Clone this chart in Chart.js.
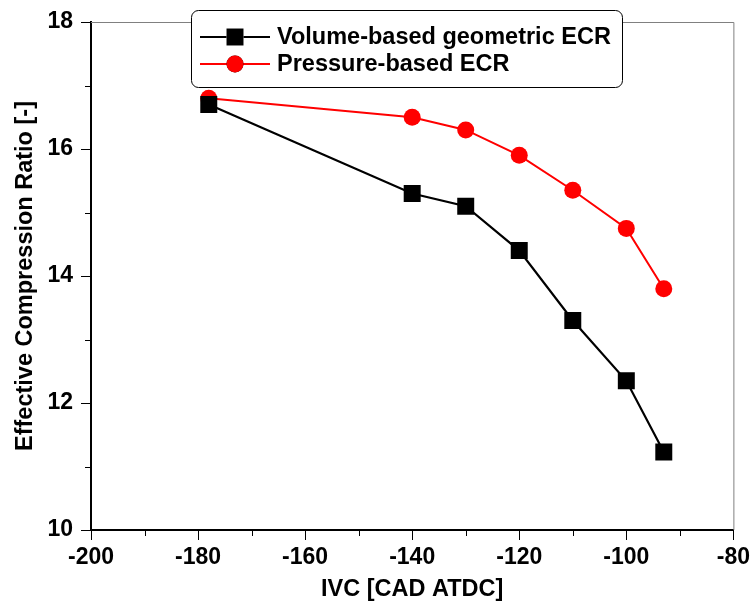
<!DOCTYPE html>
<html>
<head>
<meta charset="utf-8">
<script src="https://cdn.jsdelivr.net/npm/chart.js@4.4.1/dist/chart.umd.min.js"></script>
<style>
  html, body { margin: 0; padding: 0; background: #fff; }
  #wrap { width: 754px; height: 606px; position: relative; }
</style>
</head>
<body>
<div id="wrap"><canvas id="ecr-chart"></canvas></div>
<script>
// IVC timing [CAD ATDC]
const ivc = [-178, -140, -130, -120, -110, -100, -93];
const volumeEcr = [16.7, 15.3, 15.1, 14.4, 13.3, 12.35, 11.23];
const pressureEcr = [16.8, 16.5, 16.3, 15.9, 15.35, 14.75, 13.8];
const seriesLabels = ['Volume-based geometric ECR', 'Pressure-based ECR'];
const xTitle = 'IVC [CAD ATDC]';
const yTitle = 'Effective Compression Ratio [-]';

const FONT = '"Liberation Sans", Arial, sans-serif';

const toPoints = (ys) => ivc.map((x, i) => ({ x, y: ys[i] }));

// minor ticks + grey top/right frame
const framePlugin = {
    id: 'frame',
    afterDraw(chart) {
        const { ctx, chartArea: a, scales: { x, y } } = chart;
        ctx.save();
        ctx.strokeStyle = '#808080';
        ctx.lineWidth = 1;
        ctx.beginPath();
        ctx.moveTo(a.left, a.top + 0.5);
        ctx.lineTo(a.right + 0.5, a.top + 0.5);
        ctx.lineTo(a.right + 0.5, a.bottom);
        ctx.stroke();

        ctx.strokeStyle = '#000';
        ctx.lineWidth = 1;
        ctx.beginPath();
        for (let v = x.min + 10; v < x.max; v += 20) {
            const px = Math.round(x.getPixelForValue(v)) + 0.5;
            ctx.moveTo(px, a.bottom);
            ctx.lineTo(px, a.bottom + 6);
        }
        for (let v = y.min + 1; v < y.max; v += 2) {
            const py = Math.round(y.getPixelForValue(v)) + 0.5;
            ctx.moveTo(a.left, py);
            ctx.lineTo(a.left - 6, py);
        }
        ctx.stroke();
        ctx.restore();
    }
};

// legend box drawn over the top frame
const legendPlugin = {
    id: 'boxLegend',
    afterDraw(chart) {
        const { ctx } = chart;
        const bx = 191, by = 10, bw = 431, bh = 77, r = 7;
        ctx.save();
        ctx.fillStyle = '#fff';
        ctx.strokeStyle = '#000';
        ctx.lineWidth = 1;
        ctx.beginPath();
        ctx.roundRect(bx + 0.5, by + 0.5, bw, bh, r);
        ctx.fill();
        ctx.stroke();

        const rows = [37, 64];
        chart.data.datasets.forEach((ds, i) => {
            const ry = rows[i];
            ctx.strokeStyle = ds.borderColor;
            ctx.lineWidth = ds.borderWidth;
            ctx.beginPath();
            ctx.moveTo(200, ry);
            ctx.lineTo(270, ry);
            ctx.stroke();
            Chart.helpers.drawPoint(ctx, {
                pointStyle: ds.pointStyle,
                radius: ds.pointRadius,
                borderWidth: 0,
                rotation: 0
            }, 235, ry);
            ctx.fillStyle = ds.backgroundColor;
            ctx.fill();

            ctx.fillStyle = '#000';
            ctx.font = 'bold 23.5px ' + FONT;
            ctx.textBaseline = 'middle';
            ctx.textAlign = 'left';
            ctx.fillText(ds.label, 277, ry + 1);
        });
        ctx.restore();
    }
};

const ctx = document.getElementById('ecr-chart').getContext('2d');
new Chart(ctx, {
    type: 'line',
    data: {
        datasets: [
            {
                label: seriesLabels[0],
                data: toPoints(volumeEcr),
                borderColor: '#000',
                backgroundColor: '#000',
                borderWidth: 2.2,
                pointStyle: 'rect',
                pointRadius: 12,
                pointBorderWidth: 0,
                pointHoverRadius: 12,
                tension: 0
            },
            {
                label: seriesLabels[1],
                data: toPoints(pressureEcr),
                borderColor: '#ff0000',
                backgroundColor: '#ff0000',
                borderWidth: 2,
                pointStyle: 'circle',
                pointRadius: 8.5,
                pointBorderWidth: 0,
                pointHoverRadius: 8.5,
                tension: 0
            }
        ]
    },
    options: {
        responsive: true,
        maintainAspectRatio: false,
        animation: false,
        layout: { padding: { top: 22, right: 19, left: 0, bottom: 0 } },
        plugins: {
            legend: { display: false },
            tooltip: { enabled: false }
        },
        scales: {
            x: {
                type: 'linear',
                min: -200,
                max: -80,
                afterFit: (s) => { s.height = 76; },
                ticks: {
                    stepSize: 20,
                    color: '#000',
                    padding: 4,
                    font: { family: FONT, size: 23, weight: 'bold' }
                },
                grid: {
                    drawOnChartArea: false,
                    tickLength: 10,
                    tickColor: '#000',
                    tickWidth: 1
                },
                border: { color: '#000', width: 2 },
                title: {
                    display: true,
                    text: xTitle,
                    color: '#000',
                    padding: { top: 0, bottom: 2 },
                    font: { family: FONT, size: 23.5, weight: 'bold' }
                }
            },
            y: {
                min: 10,
                max: 18,
                afterFit: (s) => { s.width = 91; },
                ticks: {
                    stepSize: 2,
                    color: '#000',
                    padding: 8,
                    font: { family: FONT, size: 23, weight: 'bold' }
                },
                grid: {
                    drawOnChartArea: false,
                    tickLength: 10,
                    tickColor: '#000',
                    tickWidth: 1
                },
                border: { color: '#000', width: 2 },
                title: {
                    display: true,
                    text: yTitle,
                    color: '#000',
                    padding: { top: 11, bottom: 0 },
                    font: { family: FONT, size: 23.5, weight: 'bold' }
                }
            }
        }
    },
    plugins: [framePlugin, legendPlugin]
});
</script>
</body>
</html>
